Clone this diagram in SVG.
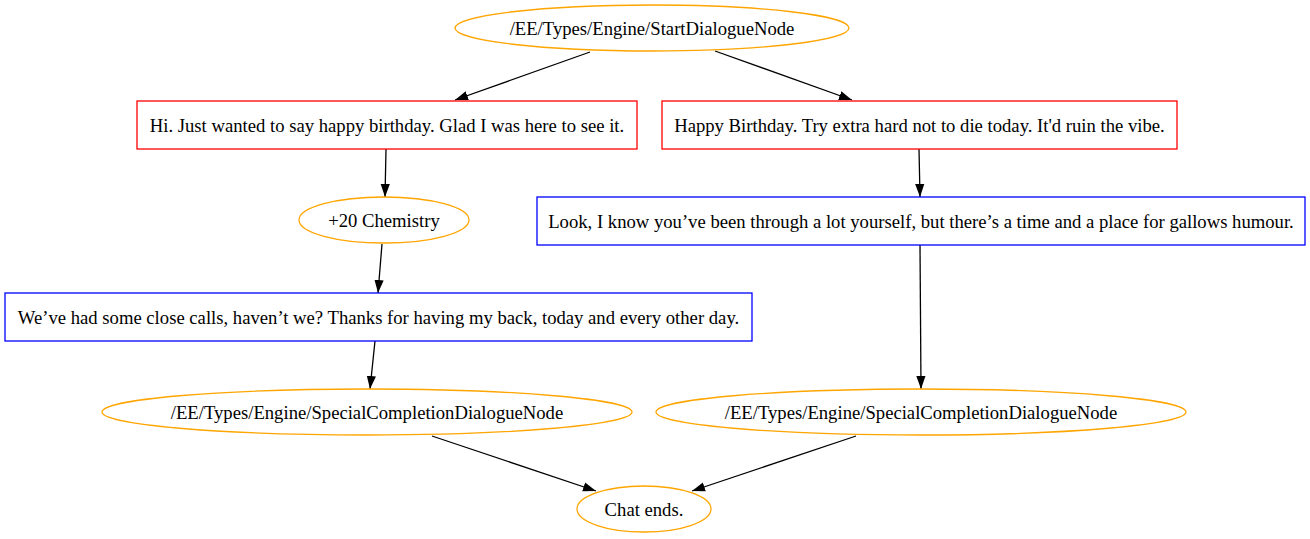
<svg xmlns="http://www.w3.org/2000/svg" width="1310" height="539" viewBox="0 0 1310 539">
<style>
text{font-family:"Liberation Serif","Times New Roman",serif;font-size:18.67px;fill:#000;text-anchor:middle;dominant-baseline:central}
.o{fill:none;stroke:#ffa500;stroke-width:1.3}
.r{fill:none;stroke:#ff0000;stroke-width:1.3}
.b{fill:none;stroke:#0000ff;stroke-width:1.3}
.e{fill:none;stroke:#000;stroke-width:1.3}
</style>
<defs>
<marker id="a" viewBox="0 0 13 10" refX="13" refY="5" markerWidth="13" markerHeight="10" markerUnits="userSpaceOnUse" orient="auto">
<path d="M0,0.4 L13,5 L0,9.6 Z" fill="#000"/>
</marker>
</defs>
<rect width="1310" height="539" fill="#fff"/>
<g id="connectors">
<line class="e" x1="590" y1="52" x2="455" y2="100" marker-end="url(#a)"/>
<line class="e" x1="715" y1="51" x2="852" y2="100" marker-end="url(#a)"/>
<line class="e" x1="386" y1="149" x2="385" y2="197" marker-end="url(#a)"/>
<line class="e" x1="919" y1="149" x2="920" y2="197" marker-end="url(#a)"/>
<line class="e" x1="382" y1="244" x2="378" y2="293" marker-end="url(#a)"/>
<line class="e" x1="920" y1="245" x2="921" y2="389" marker-end="url(#a)"/>
<line class="e" x1="375" y1="341" x2="370" y2="389" marker-end="url(#a)"/>
<line class="e" x1="432" y1="436" x2="596" y2="491" marker-end="url(#a)"/>
<line class="e" x1="856" y1="436" x2="692" y2="491" marker-end="url(#a)"/>
</g>
<g id="start"><ellipse class="o" cx="652" cy="28" rx="197" ry="23"/><text x="652" y="28">/EE/Types/Engine/StartDialogueNode</text></g>
<g id="hi"><rect class="r" x="137" y="101" width="500" height="48"/><text x="387" y="125">Hi. Just wanted to say happy birthday. Glad I was here to see it.</text></g>
<g id="happy"><rect class="r" x="662" y="101" width="515" height="48"/><text x="919.5" y="125">Happy Birthday. Try extra hard not to die today. It'd ruin the vibe.</text></g>
<g id="chem"><ellipse class="o" cx="384" cy="220" rx="85" ry="23"/><text x="384" y="220">+20 Chemistry</text></g>
<g id="look"><rect class="b" x="537" y="197" width="768" height="48"/><text x="921" y="221">Look, I know you’ve been through a lot yourself, but there’s a time and a place for gallows humour.</text></g>
<g id="close"><rect class="b" x="5" y="293" width="747" height="48"/><text x="378.5" y="317">We’ve had some close calls, haven’t we? Thanks for having my back, today and every other day.</text></g>
<g id="scLeft"><ellipse class="o" cx="367" cy="412" rx="265" ry="23"/><text x="367" y="412">/EE/Types/Engine/SpecialCompletionDialogueNode</text></g>
<g id="scRight"><ellipse class="o" cx="921" cy="412" rx="265" ry="23"/><text x="921" y="412">/EE/Types/Engine/SpecialCompletionDialogueNode</text></g>
<g id="chat"><ellipse class="o" cx="644" cy="509" rx="67" ry="23"/><text x="644" y="509">Chat ends.</text></g>
</svg>
